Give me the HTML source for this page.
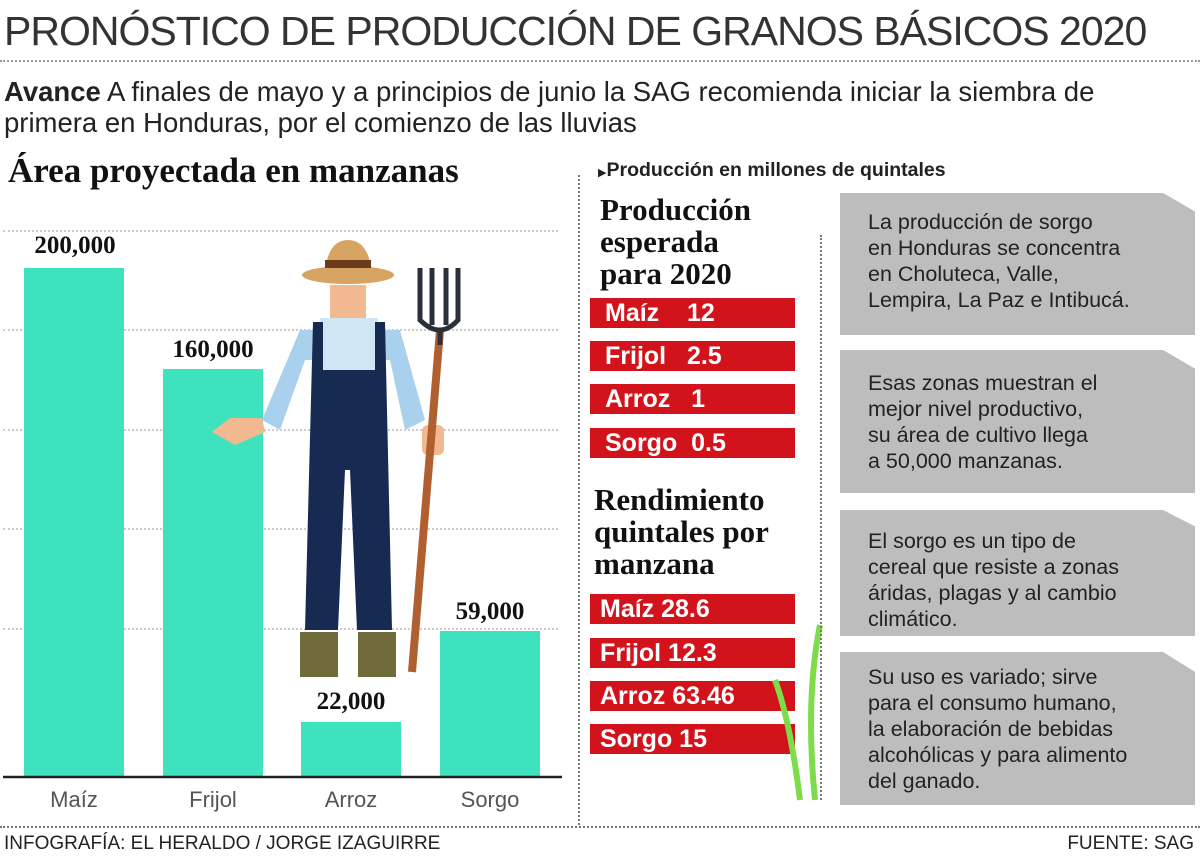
<!DOCTYPE html>
<html><head><meta charset="utf-8"><style>
*{margin:0;padding:0;box-sizing:border-box}
body{width:1200px;height:860px;background:#fff;position:relative;overflow:hidden;font-family:"Liberation Sans","DejaVu Sans",sans-serif;color:#111}
.a{position:absolute}
.serif{font-family:"Liberation Serif","DejaVu Serif",serif;font-weight:bold}
.bar{position:absolute;background:#3ee3bd;width:100px}
.val{position:absolute;font-family:"Liberation Serif",serif;font-weight:bold;font-size:25px;width:140px;text-align:center}
.grid{position:absolute;left:3px;width:555px;border-top:2px dotted #ccc;height:0}
.xl{position:absolute;top:787px;font-size:22px;color:#555;width:120px;text-align:center}
.red{position:absolute;left:590px;width:205px;height:30px;background:#d3131b;color:#fff;font-size:25px;font-weight:bold;line-height:30px;padding-left:15px;white-space:pre}
.gray{position:absolute;left:840px;width:355px;background:#bdbdbd;font-size:21.5px;line-height:26px;color:#222;padding:16px 0 0 28px;clip-path:polygon(0 0,91% 0,100% 13%,100% 100%,0 100%)}
</style></head><body>
<div class="a" style="left:4px;top:8px;font-size:41px;color:#333;letter-spacing:-1px;font-weight:normal">PRONÓSTICO DE PRODUCCIÓN DE GRANOS BÁSICOS 2020</div>
<div class="a" style="left:0;top:60px;width:1200px;border-top:2px dotted #999"></div>
<div class="a" style="left:4px;top:76px;font-size:27.5px;line-height:31px;color:#222"><b>Avance</b> A finales de mayo y a principios de junio la SAG recomienda iniciar la siembra de<br>primera en Honduras, por el comienzo de las lluvias</div>
<div class="a serif" style="left:8px;top:151px;font-size:35px">Área proyectada en manzanas</div>
<div class="a" style="left:578px;top:175px;height:650px;border-left:2px dotted #777"></div>
<div class="grid" style="top:230px"></div><div class="grid" style="top:329px"></div><div class="grid" style="top:429px"></div><div class="grid" style="top:528px"></div><div class="grid" style="top:628px"></div>
<div class="bar" style="left:24px;top:268px;height:508px"></div>
<div class="bar" style="left:163px;top:369px;height:407px"></div>
<div class="bar" style="left:301px;top:722px;height:54px"></div>
<div class="bar" style="left:440px;top:631px;height:145px"></div>
<div class="val" style="left:5px;top:232px">200,000</div>
<div class="val" style="left:143px;top:336px">160,000</div>
<div class="val" style="left:281px;top:688px">22,000</div>
<div class="val" style="left:420px;top:598px">59,000</div>
<svg class="a" style="left:0;top:0" width="580" height="860">
<line x1="3" y1="777" x2="562" y2="777" stroke="#222" stroke-width="2.5"/>
<ellipse cx="348" cy="275" rx="46" ry="9" fill="#d8a463"/>
<path d="M325 272 Q328 240 348 240 Q368 240 372 272Z" fill="#d8a463"/>
<rect x="325" y="260" width="46" height="8" fill="#6b3b1e"/>
<rect x="330" y="285" width="36" height="35" fill="#f2b890"/>
<path d="M300 330 L400 330 L425 420 L405 430 L390 360 L305 360 L280 430 L262 420Z" fill="#a9d0ec"/>
<rect x="320" y="318" width="58" height="60" fill="#cfe6f5"/>
<path d="M313 322 L323 322 L323 370 L375 370 L375 322 L385 322 L392 630 L357 630 L350 470 L345 470 L338 630 L305 630Z" fill="#172a52"/>
<path d="M262 418 L230 418 L212 432 L235 445 L265 432Z" fill="#f2b890"/>
<rect x="422" y="425" width="22" height="30" rx="6" fill="#f2b890"/>
<rect x="300" y="632" width="38" height="45" fill="#6f6a3a"/>
<rect x="358" y="632" width="38" height="45" fill="#6f6a3a"/>
<line x1="440" y1="330" x2="412" y2="672" stroke="#b06030" stroke-width="8"/>
<path d="M420 268 L420 320 Q440 340 458 320 L458 268 M432 268 L432 325 M446 268 L446 325 M440 330 L440 345" stroke="#2a2f3a" stroke-width="5" fill="none"/>
</svg>
<div class="xl" style="left:14px">Maíz</div><div class="xl" style="left:153px">Frijol</div><div class="xl" style="left:291px">Arroz</div><div class="xl" style="left:430px">Sorgo</div>
<div class="a" style="left:0;top:826px;width:1200px;border-top:2px dotted #777"></div>
<div class="a" style="left:4px;top:833px;font-size:19px;color:#222">INFOGRAFÍA: EL HERALDO / JORGE IZAGUIRRE</div>
<div class="a" style="right:6px;top:833px;font-size:19px;color:#222">FUENTE: SAG</div>
<div class="a" style="left:598px;top:159px;font-size:19.5px;font-weight:bold;color:#222"><span style="font-size:11px">▶</span>Producción en millones de quintales</div>
<div class="a serif" style="left:600px;top:194px;font-size:31px;line-height:32px">Producción<br>esperada<br>para 2020</div>
<div class="red" style="top:298px">Maíz    12</div>
<div class="red" style="top:341px">Frijol   2.5</div>
<div class="red" style="top:384px">Arroz   1</div>
<div class="red" style="top:428px">Sorgo  0.5</div>
<div class="a serif" style="left:594px;top:484px;font-size:31px;line-height:32px">Rendimiento<br>quintales por<br>manzana</div>
<div class="red" style="top:594px;padding-left:10px">Maíz 28.6</div>
<div class="red" style="top:638px;padding-left:10px">Frijol 12.3</div>
<div class="red" style="top:681px;padding-left:10px">Arroz 63.46</div>
<div class="red" style="top:724px;padding-left:10px">Sorgo 15</div>
<svg class="a" style="left:700px;top:620px" width="140" height="190">
<path d="M115 180 Q105 80 120 5 M100 180 Q90 100 75 60" stroke="#7ddc4a" stroke-width="6" fill="none"/>
</svg>
<div class="a" style="left:820px;top:235px;height:565px;border-left:2px dotted #777"></div>
<div class="gray" style="top:193px;height:142px">La producción de sorgo<br>en Honduras se concentra<br>en Choluteca, Valle,<br>Lempira, La Paz e Intibucá.</div>
<div class="gray" style="top:350px;height:143px;padding-top:20px">Esas zonas muestran el<br>mejor nivel productivo,<br>su área de cultivo llega<br>a 50,000 manzanas.</div>
<div class="gray" style="top:510px;height:126px;padding-top:18px">El sorgo es un tipo de<br>cereal que resiste a zonas<br>áridas, plagas y al cambio<br>climático.</div>
<div class="gray" style="top:652px;height:153px;padding-top:12px">Su uso es variado; sirve<br>para el consumo humano,<br>la elaboración de bebidas<br>alcohólicas y para alimento<br>del ganado.</div>
</body></html>
